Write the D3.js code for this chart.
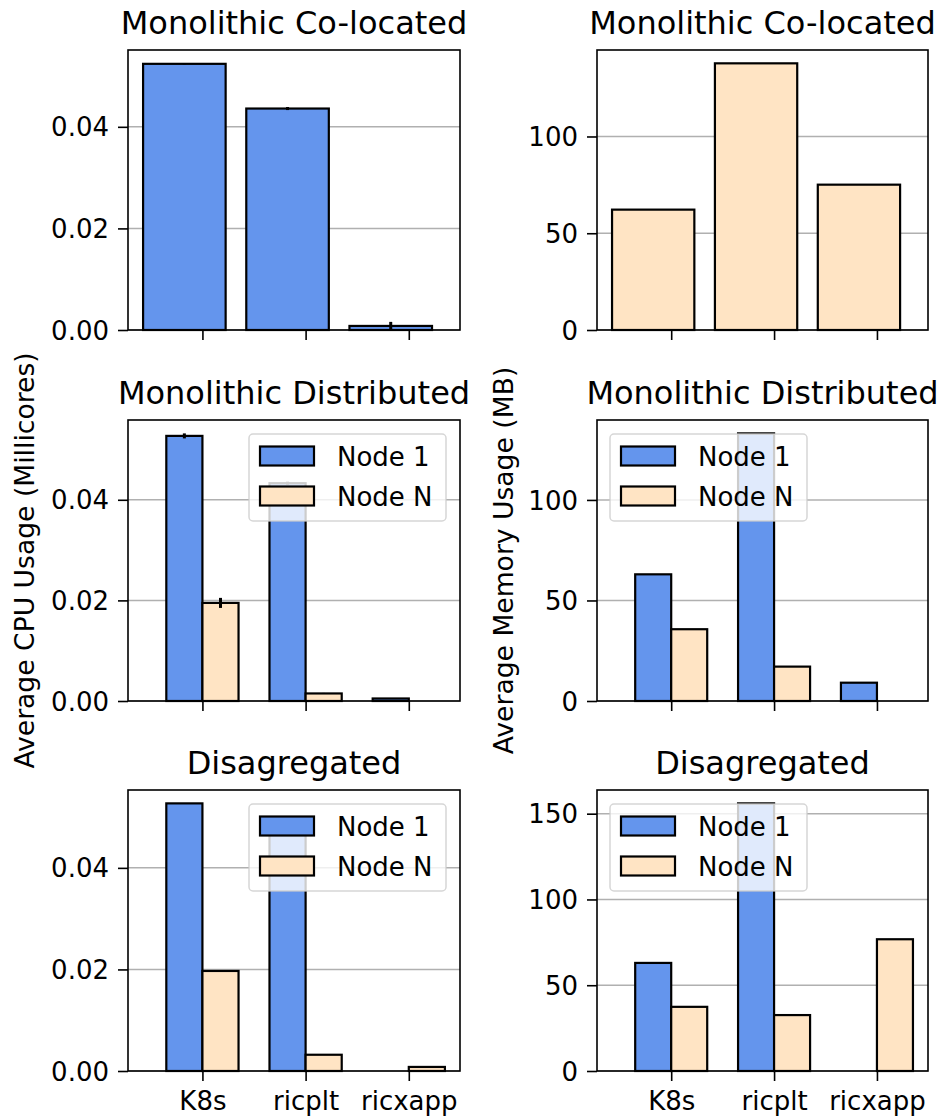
<!DOCTYPE html>
<html>
<head>
<meta charset="utf-8">
<script src="https://cdn.jsdelivr.net/npm/d3@7"></script>
<style>
  body { margin: 0; background: #fff; }
  text { font-family: "DejaVu Sans", sans-serif; fill: #000; }
</style>
</head>
<body>
<svg id="chart" width="942" height="1117"></svg>
<script>
// Data
const categories = ["K8s", "ricplt", "ricxapp"];
const seriesNames = ["Node 1", "Node N"];

const cpuColocated = [0.0524, 0.0436, 0.0008];
const cpuColocatedErr = [0.0001, 0.0003, 0.0008];
const cpuDistNode1 = [0.0527, 0.0433, 0.0005];
const cpuDistNode1Err = [0.0005, 0.0003, 0.0001];
const cpuDistNodeN = [0.0195, 0.0015, 0];
const cpuDistNodeNErr = [0.001, 0.0001, 0];
const cpuDisNode1 = [0.0527, 0.048, 0];
const cpuDisNodeN = [0.0197, 0.0032, 0.0008];

const memColocated = [62.2, 137.8, 75.1];
const memDistNode1 = [63.0, 133.1, 9.1];
const memDistNodeN = [35.7, 17.1, 0];
const memDisNode1 = [63.0, 156.0, 0];
const memDisNodeN = [37.4, 32.6, 76.8];

const rowTitles = ["Monolithic Co-located", "Monolithic Distributed", "Disagregated"];
const cpuTicks = [0, 0.02, 0.04];
const memTicks = [[0, 50, 100], [0, 50, 100], [0, 50, 100, 150]];

const colors = {
  node1: "#6495ed",
  nodeN: "#ffe4c4",
  grid: "#b0b0b0"
};

const svg = d3.select("#chart");
const cols = [{ left: 128, right: 460 }, { left: 597, right: 928 }];
const rows = [{ top: 50, bottom: 330 }, { top: 420, bottom: 701 }, { top: 790, bottom: 1071 }];

const zeros = [0, 0, 0];
// panels: [row][col]
const panels = [
  [
    { single: cpuColocated, singleErr: cpuColocatedErr, ticks: cpuTicks, fmt: d3.format(".2f") },
    { single: memColocated, singleErr: zeros, ticks: memTicks[0], fmt: d3.format("d") }
  ],
  [
    { groups: [[cpuDistNode1, cpuDistNode1Err], [cpuDistNodeN, cpuDistNodeNErr]], ticks: cpuTicks, fmt: d3.format(".2f"), legend: "right" },
    { groups: [[memDistNode1, zeros], [memDistNodeN, zeros]], ticks: memTicks[1], fmt: d3.format("d"), legend: "left" }
  ],
  [
    { groups: [[cpuDisNode1, zeros], [cpuDisNodeN, zeros]], ticks: cpuTicks, fmt: d3.format(".2f"), legend: "right" },
    { groups: [[memDisNode1, zeros], [memDisNodeN, zeros]], ticks: memTicks[2], fmt: d3.format("d"), legend: "left" }
  ]
];

// shared x limits like matplotlib: data span + 5% margin
const barW = 0.35;
const lo = -0.175 - 0.4, hi = 2 + barW;
const xm = (hi - lo) * 0.05;

panels.forEach((row, r) => {
  row.forEach((p, c) => {
    const col = cols[c], rw = rows[r];
    const x = d3.scaleLinear().domain([lo - xm, hi + xm]).range([col.left, col.right]);

    let bars = [];
    if (p.single) {
      p.single.forEach((v, i) => bars.push({ x0: i - 0.575, x1: i + 0.225, v, e: p.singleErr[i], color: c === 0 ? colors.node1 : colors.nodeN }));
    } else {
      p.groups.forEach(([vals, errs], g) => {
        vals.forEach((v, i) => bars.push({ x0: i - barW + g * barW, x1: i + g * barW, v, e: errs[i], color: g === 0 ? colors.node1 : colors.nodeN }));
      });
    }
    const ymax = d3.max(bars, d => d.v + d.e) * 1.05;
    const y = d3.scaleLinear().domain([0, ymax]).range([rw.bottom, rw.top]);

    const g = svg.append("g");

    // grid
    g.selectAll("line.grid").data(p.ticks).enter().append("line")
      .attr("x1", col.left).attr("x2", col.right)
      .attr("y1", d => y(d)).attr("y2", d => y(d))
      .attr("stroke", colors.grid).attr("stroke-width", 1.5);

    // bars
    g.selectAll("rect.bar").data(bars.filter(d => d.v > 0)).enter().append("rect")
      .attr("x", d => x(d.x0)).attr("width", d => x(d.x1) - x(d.x0))
      .attr("y", d => y(d.v)).attr("height", d => y(0) - y(d.v))
      .attr("fill", d => d.color).attr("stroke", "#000").attr("stroke-width", 2.2);

    // error bars
    g.selectAll("line.err").data(bars.filter(d => d.e > 0)).enter().append("line")
      .attr("x1", d => x((d.x0 + d.x1) / 2)).attr("x2", d => x((d.x0 + d.x1) / 2))
      .attr("y1", d => y(d.v - d.e)).attr("y2", d => y(d.v + d.e))
      .attr("stroke", "#000").attr("stroke-width", 3);

    // frame
    g.append("rect")
      .attr("x", col.left).attr("y", rw.top)
      .attr("width", col.right - col.left).attr("height", rw.bottom - rw.top)
      .attr("fill", "none").attr("stroke", "#000").attr("stroke-width", 1.6);

    // y axis
    const yAxis = d3.axisLeft(y).tickValues(p.ticks).tickFormat(p.fmt).tickSize(10).tickPadding(9);
    const ya = g.append("g").attr("transform", `translate(${col.left},0)`).call(yAxis);
    ya.select(".domain").remove();
    ya.selectAll("line").attr("stroke-width", 1.6);
    ya.selectAll("text").attr("font-size", 26).attr("font-family", "DejaVu Sans").attr("dy", "0.35em");

    // x axis
    const xAxis = d3.axisBottom(x).tickValues([0, 1, 2]).tickFormat(i => r === 2 ? categories[i] : "").tickSize(10).tickPadding(11);
    const xa = g.append("g").attr("transform", `translate(0,${rw.bottom})`).call(xAxis);
    xa.select(".domain").remove();
    xa.selectAll("line").attr("stroke-width", 1.6);
    xa.selectAll("text").attr("font-size", 26).attr("font-family", "DejaVu Sans");

    // title
    g.append("text")
      .attr("x", (col.left + col.right) / 2).attr("y", rw.top - 16)
      .attr("text-anchor", "middle").attr("font-size", 32)
      .text(rowTitles[r]);

    // legend
    if (p.legend) {
      const lw = 197, lh = 87;
      const lx = p.legend === "right" ? col.right - 14 - lw : col.left + 13;
      const ly = rw.top + 14;
      const lg = g.append("g").attr("transform", `translate(${lx},${ly})`);
      lg.append("rect").attr("width", lw).attr("height", lh).attr("rx", 4)
        .attr("fill", "#fff").attr("fill-opacity", 0.8)
        .attr("stroke", "#cccccc").attr("stroke-opacity", 0.8).attr("stroke-width", 1.5);
      seriesNames.forEach((name, k) => {
        lg.append("rect").attr("x", 11).attr("y", 12.5 + k * 40).attr("width", 54).attr("height", 19)
          .attr("fill", k === 0 ? colors.node1 : colors.nodeN).attr("stroke", "#000").attr("stroke-width", 2.2);
        lg.append("text").attr("x", 88).attr("y", 31.5 + k * 40).attr("font-size", 26).text(name);
      });
    }
  });
});

// y labels
svg.append("text")
  .attr("transform", `translate(34,${(rows[1].top + rows[1].bottom) / 2}) rotate(-90)`)
  .attr("text-anchor", "middle").attr("font-size", 26.6)
  .text("Average CPU Usage (Millicores)");
svg.append("text")
  .attr("transform", `translate(513,${(rows[1].top + rows[1].bottom) / 2}) rotate(-90)`)
  .attr("text-anchor", "middle").attr("font-size", 26.6)
  .text("Average Memory Usage (MB)");
</script>
</body>
</html>
